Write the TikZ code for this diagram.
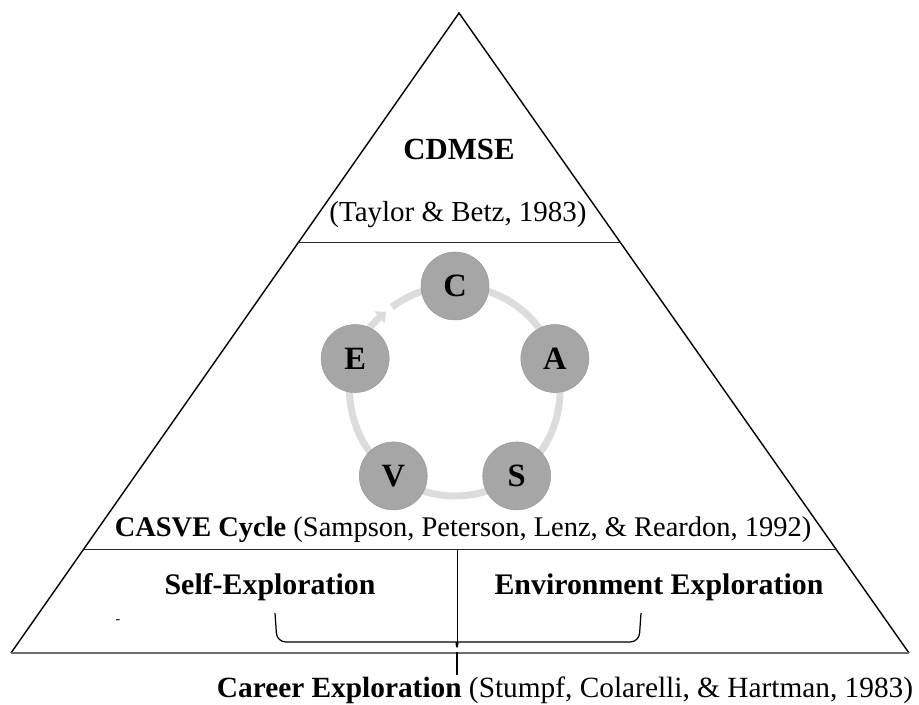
\documentclass[tikz,border=0pt]{standalone}
\usepackage{fontspec}
\setmainfont{Liberation Serif}
\usetikzlibrary{calc,arrows.meta}
\definecolor{ringgray}{HTML}{DCDCDC}
\definecolor{ballgray}{HTML}{A6A6A6}
\definecolor{basegray}{HTML}{6E6E6E}

\begin{document}
\begin{tikzpicture}[x=0.02cm,y=0.02cm,
  txt/.style={font=\fontsize{16.5}{20}\selectfont},
  ball/.style={circle,fill=ballgray,draw=ballgray!92!black,line width=0.3pt,
    minimum size=1.36cm,inner sep=0pt,font=\fontsize{18.5}{21}\selectfont\bfseries},
  ring/.style={ringgray,line width=4pt},
  rule/.style={line width=0.6pt,black!85}]
  \useasboundingbox (0,0) rectangle (919,705);
  % pyramid
  \coordinate (top) at (459,692);
  \coordinate (bl) at (11,52);
  \coordinate (br) at (909,52);
  \draw[line width=0.8pt] (bl) -- (top) -- (br);
  \draw[basegray,line width=1.3pt] (bl) -- (br);
  \draw[rule] ($(top)!0.359!(bl)$) -- ($(top)!0.359!(br)$);
  \draw[rule] ($(top)!0.839!(bl)$) coordinate (midl) -- ($(top)!0.839!(br)$);
  % CASVE cycle
  \coordinate (ctr) at (455,314);
  \draw[ring,-{Triangle[length=5pt,width=9pt]}] ($(ctr)+(127:105)$)
    arc[start angle=127,end angle=-229,radius=105];
  \node[ball] (C) at ($(ctr)+(90:105)$) {C};
  \node[ball] (A) at ($(ctr)+(18:105)$) {A};
  \node[ball] (S) at ($(ctr)+(-54:105)$) {S};
  \node[ball] (V) at ($(ctr)+(-126:105)$) {V};
  \node[ball] (E) at ($(ctr)+(162:105)$) {E};
  % labels
  \node[txt,font=\fontsize{17.5}{21}\selectfont] (cdmse) at (459,556) {\textbf{CDMSE}};
  \node[txt] (taylor) at (458,490) {(Taylor \& Betz, 1983)};
  \node[txt,font=\fontsize{16.2}{20}\selectfont] (casve) at (463,175) {\textbf{CASVE Cycle} (Sampson, Peterson, Lenz, \& Reardon, 1992)};
  \node[txt,font=\fontsize{17}{20}\selectfont] (self) at (270,118) {\textbf{Self-Exploration}};
  \node[txt,font=\fontsize{17}{20}\selectfont] (env) at (659,118) {\textbf{Environment Exploration}};
  \node[txt] (dash) at (118,83) {\fontsize{8}{9}\selectfont -};
  \node[txt,font=\fontsize{16.7}{20}\selectfont] (career) at (565,15) {\textbf{Career Exploration} (Stumpf, Colarelli, \& Hartman, 1983)};
  % brace
  \coordinate (split) at (457,155);
  \coordinate (bmid) at (457,63);
  \coordinate (btip) at (457,53);
  \coordinate (stem) at (457,30);
  \draw[line width=0.5pt] (split) -- (bmid);
  \draw[line width=0.7pt,rounded corners=5] (275,92) -- (277,63) -- (450,63)
    .. controls (456,63) .. (btip) .. controls (458,63) .. (464,63) -- (639,63) -- (641,92);
  \draw[line width=1.3pt] (btip) -- (stem);
\end{tikzpicture}
\end{document}
